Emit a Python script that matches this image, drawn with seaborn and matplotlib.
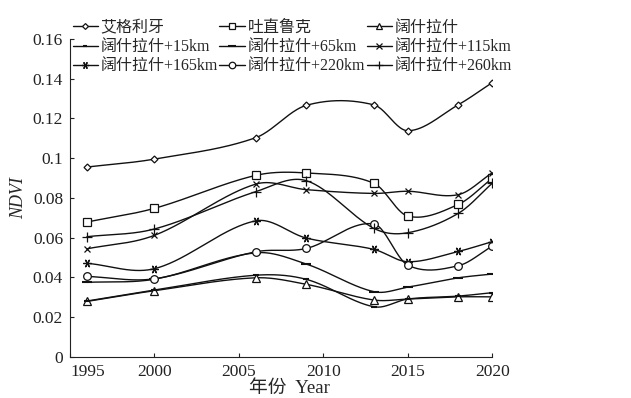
import numpy as np
import pandas as pd
import matplotlib
matplotlib.use("Agg")
import matplotlib.pyplot as plt
from matplotlib.lines import Line2D
import seaborn as sns

sns.set_theme(style="ticks")
plt.rcParams['font.family'] = ['Liberation Serif', 'Noto Sans CJK SC']
plt.rcParams['mathtext.fontset'] = 'stix'

# 数据
years = [1996, 2000, 2006, 2009, 2013, 2015, 2018, 2020]
names = ['艾格利牙', '吐直鲁克', '阔什拉什',
         '阔什拉什+15km', '阔什拉什+65km', '阔什拉什+115km',
         '阔什拉什+165km', '阔什拉什+220km', '阔什拉什+260km']
aigeliya = [0.0955, 0.0995, 0.1103, 0.1266, 0.1268, 0.1138, 0.1269, 0.1380]
tuzhiluke = [0.0678, 0.0747, 0.0913, 0.0925, 0.0873, 0.0708, 0.0767, 0.0898]
kuoshi = [0.0278, 0.0332, 0.0397, 0.0364, 0.0285, 0.0290, 0.0301, 0.0301]
kuoshi_15 = [0.0280, 0.0335, 0.0410, 0.0389, 0.0251, 0.0290, 0.0305, 0.0322]
kuoshi_65 = [0.0374, 0.0390, 0.0523, 0.0466, 0.0327, 0.0350, 0.0397, 0.0416]
kuoshi_115 = [0.0543, 0.0611, 0.0869, 0.0841, 0.0822, 0.0833, 0.0816, 0.0926]
kuoshi_165 = [0.0470, 0.0443, 0.0684, 0.0597, 0.0540, 0.0478, 0.0530, 0.0579]
kuoshi_220 = [0.0404, 0.0392, 0.0528, 0.0545, 0.0668, 0.0461, 0.0458, 0.0557]
kuoshi_260 = [0.0604, 0.0643, 0.0831, 0.0886, 0.0646, 0.0624, 0.0722, 0.0873]
series = [aigeliya, tuzhiluke, kuoshi, kuoshi_15, kuoshi_65,
          kuoshi_115, kuoshi_165, kuoshi_220, kuoshi_260]

# 标记样式
markers = ['D', 's', '^', '_', '_', 'x', (6, 2, 90), 'o', '+']
msizes = [3.5, 5.5, 5.5, 4, 7, 5, 6, 5.5, 7]


def smooth(x, y, n=300):
    # Hermite 插值平滑，切线取相邻割线斜率
    x = np.asarray(x, float)
    y = np.asarray(y, float)
    k = len(x)
    m = np.zeros(k)
    m[0] = (y[1] - y[0]) / (x[1] - x[0])
    m[-1] = (y[-1] - y[-2]) / (x[-1] - x[-2])
    m[1:-1] = (y[2:] - y[:-2]) / (x[2:] - x[:-2])
    xs = np.linspace(x[0], x[-1], n)
    idx = np.clip(np.searchsorted(x, xs) - 1, 0, k - 2)
    h = x[idx + 1] - x[idx]
    t = (xs - x[idx]) / h
    h00 = 2 * t ** 3 - 3 * t ** 2 + 1
    h10 = t ** 3 - 2 * t ** 2 + t
    h01 = -2 * t ** 3 + 3 * t ** 2
    h11 = t ** 3 - t ** 2
    ys = h00 * y[idx] + h10 * h * m[idx] + h01 * y[idx + 1] + h11 * h * m[idx + 1]
    return xs, ys


fig = plt.figure(figsize=(6.31, 3.98), dpi=100)
ax = fig.add_axes([0.111, 0.104, 0.669, 0.798])
color = '#111111'

handles = []
for name, vals, mk, s in zip(names, series, markers, msizes):
    xs, ys = smooth(years, vals)
    sns.lineplot(x=xs, y=ys, ax=ax, color=color, lw=1.0, sort=False, estimator=None)
    ax.plot(years, vals, linestyle='', marker=mk, ms=s, mfc='white', mec=color,
            mew=1.5 if mk == '_' else 0.9, color=color, zorder=3)
    handles.append(Line2D([], [], color=color, lw=1.0, marker=mk, ms=s * 0.85,
                          mfc='white', mec=color, mew=1.5 if mk == '_' else 0.9))

ax.set_xlim(1995, 2020)
ax.set_ylim(0, 0.16)
ax.set_xticks([1995, 2000, 2005, 2010, 2015, 2020])
ax.set_yticks(np.arange(0, 0.161, 0.02))
ax.set_yticklabels(['0', '0.02', '0.04', '0.06', '0.08', '0.1', '0.12', '0.14', '0.16'])
ax.tick_params(direction='in', length=3, width=0.8, labelsize=12.5, colors='#222222', pad=5)
ax.get_xticklabels()[0].set_horizontalalignment('left')
for sp in ['top', 'right']:
    ax.spines[sp].set_visible(False)
for sp in ['left', 'bottom']:
    ax.spines[sp].set_linewidth(0.8)
    ax.spines[sp].set_color('#222222')

ax.set_xlabel('年份  Year', fontsize=13.5, labelpad=0)
ax.xaxis.set_label_coords(0.52, -0.075)
ax.set_ylabel('NDVI', fontsize=13, style='italic', labelpad=4)

# 图例按行排列
order = [0, 3, 6, 1, 4, 7, 2, 5, 8]
fig.legend([handles[i] for i in order], [names[i] for i in order], ncol=3,
           loc='upper left', bbox_to_anchor=(0.115, 0.95), frameon=False,
           fontsize=11.5, handlelength=1.6, handletextpad=0.15,
           columnspacing=0.1, labelspacing=0.2, borderpad=0, borderaxespad=0)

fig.savefig('out.png', dpi=100)
